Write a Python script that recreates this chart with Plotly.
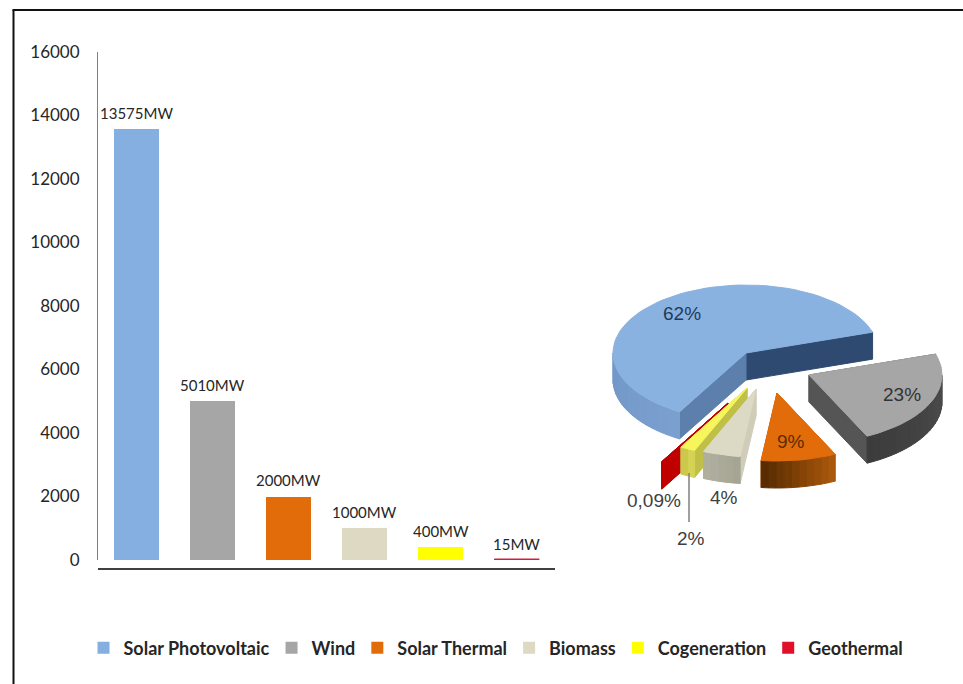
import math
import plotly.graph_objects as go

categories = ["Solar Photovoltaic", "Wind", "Solar Thermal", "Biomass", "Cogeneration", "Geothermal"]
megawatts = [13575, 5010, 2000, 1000, 400, 15]
bar_labels = ["13575MW", "5010MW", "2000MW", "1000MW", "400MW", "15MW"]
pie_labels = ["62%", "23%", "9%", "4%", "2%", "0,09%"]
bar_colors = ["#85AFE0", "#A6A6A6", "#E36C0A", "#DDD9C3", "#FFFF00", "#E0102A"]
y_ticks = [0, 2000, 4000, 6000, 8000, 10000, 12000, 14000, 16000]

W, H = 963, 684
RX, RY, DEPTH = 133, 68, 27
START = 240
BAR_WIDTH = 0.59

# slice styling: apex position, top colour, outer wall gradient, walls at start / end angle
slice_style = {
    "Solar Photovoltaic": dict(apex=(746, 353), top="#8AB2E0", outer=((122, 160, 208), (92, 128, 176)), start="#5C7FAC", end="#2F4A70"),
    "Wind": dict(apex=(809, 375), top="#A6A6A6", outer=((80, 80, 80), (60, 60, 60)), start="#555555", end="#555555"),
    "Solar Thermal": dict(apex=(777, 393), top="#E36C0A", outer=((170, 88, 12), (88, 44, 0)), start="#B85A08", end="#B85A08"),
    "Geothermal": dict(apex=(728, 403), top="#C00000", outer=((192, 0, 0), (192, 0, 0)), start="#C00000", end="#C80808"),
    "Cogeneration": dict(apex=(747, 388), top="#F6F65C", outer=((214, 210, 84), (204, 200, 76)), start="#C0C048", end="#C0C048"),
    "Biomass": dict(apex=(756, 389), top="#DCD9C4", outer=((166, 165, 148), (176, 175, 158)), start="#CFCDB8", end="#CFCDB8"),
}
paint_order = ["Solar Photovoltaic", "Wind", "Solar Thermal", "Geothermal", "Cogeneration", "Biomass"]

label_pos = {
    "62%": (682, 313, "#1F3A5F"), "23%": (902, 394, "#333333"), "9%": (791, 441, "#5A2C00"),
    "4%": (724, 497, "#404040"), "2%": (691, 538, "#404040"), "0,09%": (654, 500, "#404040"),
}

fig = go.Figure()

# bars
for i, (name, value, text, colour) in enumerate(zip(categories, megawatts, bar_labels, bar_colors)):
    fig.add_trace(go.Bar(
        x=[i], y=[value], name=name, width=BAR_WIDTH,
        marker=dict(color=colour, line=dict(width=0)),
        xaxis="x", yaxis="y",
    ))
    fig.add_annotation(x=i, y=value, xref="x", yref="y", text=text, showarrow=False, yshift=16,
                       font=dict(family="Lato", size=15, color="#262626"))

# the smallest bar is thinner than a pixel, so it gets a visible cap of its own
g = categories.index("Geothermal")
fig.add_trace(go.Scatter(
    x=[g - BAR_WIDTH / 2, g + BAR_WIDTH / 2], y=[megawatts[g], megawatts[g]], mode="lines",
    line=dict(color="#D0203C", width=2), hoverinfo="skip", showlegend=False, cliponaxis=False,
    xaxis="x", yaxis="y",
))


def poly(xs, ys, colour):
    fig.add_trace(go.Scatter(
        x=xs + xs[:1], y=ys + ys[:1], mode="lines", fill="toself", fillcolor=colour,
        line=dict(color=colour, width=1), hoverinfo="skip", showlegend=False,
        xaxis="x2", yaxis="y2",
    ))


# exploded pseudo-3D pie, angles from the values
total = sum(megawatts)
angles = {}
cursor = START
for name, value in zip(categories, megawatts):
    sweep = 360 * value / total
    angles[name] = (cursor, cursor - sweep)
    cursor -= sweep


def rim(apex, deg):
    r = math.radians(deg)
    return apex[0] + RX * math.cos(r), apex[1] - RY * math.sin(r)


for name in paint_order:
    st = slice_style[name]
    a0, a1 = angles[name]
    apex = st["apex"]
    # radial walls
    for deg, colour in ((a1, st["end"]), (a0, st["start"])):
        x, y = rim(apex, deg)
        poly([apex[0], x, x, apex[0]], [apex[1], y, y + DEPTH, apex[1] + DEPTH], colour)
    # outer wall, only where the rim faces the viewer
    n = max(2, int(abs(a0 - a1) / 3))
    steps = [a0 + (a1 - a0) * i / n for i in range(n + 1)]
    for i in range(n):
        d0, d1 = steps[i], steps[i + 1]
        if math.sin(math.radians((d0 + d1) / 2)) >= 0:
            continue
        f = i / max(1, n - 1)
        c0, c1 = st["outer"]
        rgb = tuple(round(c0[k] + (c1[k] - c0[k]) * f) for k in range(3))
        x0, y0 = rim(apex, d0)
        x1, y1 = rim(apex, d1)
        poly([x0, x1, x1, x0], [y0, y1, y1 + DEPTH, y0 + DEPTH], "rgb(%d,%d,%d)" % rgb)
    # top face
    pts = [rim(apex, d) for d in steps]
    poly([apex[0]] + [p[0] for p in pts], [apex[1]] + [p[1] for p in pts], st["top"])

# leader line for the 2% label
fig.add_trace(go.Scatter(x=[689, 689], y=[473, 522], mode="lines", line=dict(color="#808080", width=1.5),
                         hoverinfo="skip", showlegend=False, xaxis="x2", yaxis="y2"))

for text in pie_labels:
    x, y, colour = label_pos[text]
    fig.add_annotation(x=x, y=y, xref="x2", yref="y2", text=text, showarrow=False,
                       font=dict(family="Liberation Sans", size=19, color=colour))

fig.update_layout(
    width=W, height=H, autosize=False, margin=dict(l=0, r=0, t=0, b=0, pad=0, autoexpand=False),
    paper_bgcolor="white", plot_bgcolor="rgba(0,0,0,0)", barmode="overlay", bargap=0,
    xaxis=dict(domain=[98 / W, 555 / W], range=[-0.5, 5.5],
               anchor="free", position=1 - 568.5 / H, showticklabels=False, ticks="", showgrid=False,
               zeroline=False, showline=True, linecolor="#404040", linewidth=2),
    yaxis=dict(domain=[1 - 560 / H, 1 - 52 / H], range=[0, 16000], tickvals=y_ticks,
               ticktext=[str(v) for v in y_ticks], showgrid=False, zeroline=False, showline=True,
               linecolor="#808080", linewidth=1, ticks="", ticklabelstandoff=14,
               tickfont=dict(family="Lato", size=17, color="#262626"), anchor="x"),
    xaxis2=dict(domain=[0, 1], range=[0, W], visible=False, anchor="y2", fixedrange=True),
    yaxis2=dict(domain=[0, 1], range=[H, 0], visible=False, anchor="x2", fixedrange=True),
    legend=dict(orientation="h", x=86.5 / W, y=1 - 648 / H, xanchor="left", yanchor="middle", indentation=-3,
                font=dict(family="Lato", size=18, color="#262626", weight="bold"),
                bgcolor="rgba(0,0,0,0)", traceorder="normal"),
    shapes=[
        dict(type="line", xref="paper", yref="paper", x0=13.5 / W, x1=13.5 / W, y0=0, y1=1 - 10 / H,
             line=dict(color="#111111", width=2)),
        dict(type="line", xref="paper", yref="paper", x0=12.5 / W, x1=1, y0=1 - 10 / H, y1=1 - 10 / H,
             line=dict(color="#111111", width=2)),
    ],
)

fig.write_html("out.html", config={"displayModeBar": False},
               post_script="document.body.style.margin='0';document.documentElement.style.overflow='hidden';")
